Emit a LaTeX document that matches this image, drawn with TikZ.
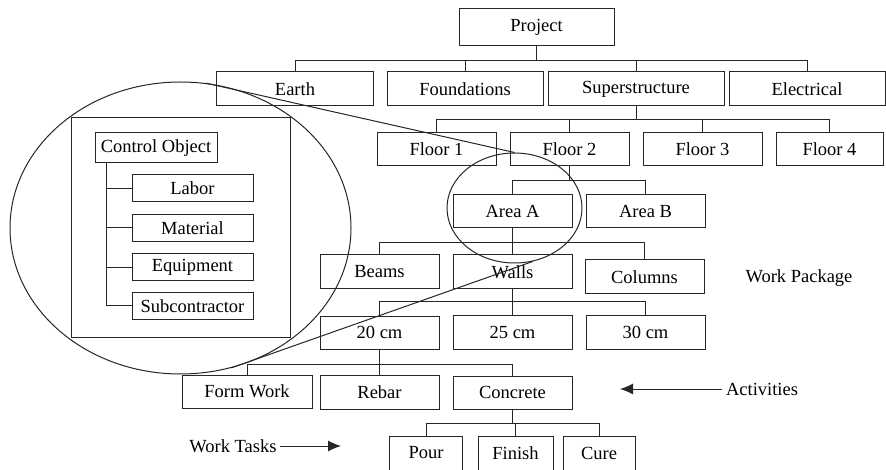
\documentclass[tikz,border=0pt]{standalone}
\usepackage{fontspec}
\setmainfont{Liberation Serif}
\usetikzlibrary{shapes.geometric, arrows.meta, positioning, calc}

\begin{document}
\begin{tikzpicture}[x=1pt, y=-1pt, line width=1pt, draw=black!85,
    wbs/.style={draw, rectangle, inner sep=0pt, minimum width=119pt, minimum height=34pt, font=\fontsize{18.5}{21}\selectfont},
    res/.style={wbs, minimum width=121pt, minimum height=27pt},
    note/.style={font=\fontsize{18.5}{21}\selectfont},
    zoomring/.style={draw, ellipse, inner sep=0pt},
    tip/.style={-{Latex[length=13pt, width=11pt]}}]
    \useasboundingbox (0,0) rectangle (886,470);

    % Top: project and trades
    \node[wbs, minimum width=155pt, minimum height=37pt] (project) at (536.5, 27.5) {Project};
    \node[wbs, minimum width=157pt] (earth) at (295, 89) {Earth};
    \node[wbs, minimum width=156pt] (found) at (465, 89) {Foundations};
    \node[wbs, minimum width=176pt] (super) at (636, 89) {Superstructure};
    \node[wbs, minimum width=156pt] (elec) at (807, 89) {Electrical};

    % Floors
    \node[wbs, minimum height=33pt] (floor1) at (436.5, 149.5) {Floor 1};
    \node[wbs, minimum height=33pt] (floor2) at (569.5, 149.5) {Floor 2};
    \node[wbs, minimum height=33pt] (floor3) at (702.5, 149.5) {Floor 3};
    \node[wbs, minimum height=33pt, minimum width=107pt] (floor4) at (829.5, 149.5) {Floor 4};

    % Areas
    \node[wbs, minimum height=33pt] (areaA) at (512.5, 211.5) {Area A};
    \node[wbs, minimum height=33pt] (areaB) at (645.5, 211.5) {Area B};

    % Work packages
    \node[wbs] (beams) at (379.5, 272) {Beams};
    \node[wbs] (walls) at (512.5, 272) {Walls};
    \node[wbs] (columns) at (644.5, 277) {Columns};
    \node[note] (wpack) at (799, 278) {Work Package};

    % Wall thickness
    \node[wbs, minimum height=33pt] (cm20) at (379.5, 332.5) {20 cm};
    \node[wbs] (cm25) at (512.5, 332) {25 cm};
    \node[wbs] (cm30) at (645.5, 332) {30 cm};

    % Activities
    \node[wbs, minimum width=130pt, minimum height=33pt] (form) at (247, 391.5) {Form Work};
    \node[wbs] (rebar) at (379.5, 392) {Rebar};
    \node[wbs, minimum height=33pt] (concrete) at (512.5, 392.5) {Concrete};
    \node[note] (activ) at (762, 389) {Activities};
    \coordinate (activtip) at (620, 389);
    \draw[tip] (activ.west) -- (activtip);

    % Work tasks
    \node[wbs, minimum width=73pt] (pour) at (426, 453) {Pour};
    \node[wbs, minimum width=75pt] (finish) at (515.5, 453) {Finish};
    \node[wbs, minimum width=72pt] (cure) at (599, 453) {Cure};
    \node[note] (wtasks) at (233, 446) {Work Tasks};
    \coordinate (wtaskstip) at (341, 446);
    \draw[tip] (wtasks.east) -- (wtaskstip);

    % Tree connectors
    \draw (project.south) -- ++(0,14) coordinate (bus1);
    \foreach \c in {earth, found, super, elec} \draw (bus1) -| (\c.north);
    \draw (super.south) -- ++(0,13) coordinate (bus2);
    \foreach \c in {floor1, floor2, floor3, floor4} \draw (bus2) -| (\c.north);
    \draw (floor2.south) -- ++(0,14) coordinate (bus3);
    \foreach \c in {areaA, areaB} \draw (bus3) -| (\c.north);
    \draw (areaA.south) -- ++(0,14) coordinate (bus4);
    \foreach \c in {beams, walls, columns} \draw (bus4) -| (\c.north);
    \draw (walls.south) -- ++(0,12) coordinate (bus5);
    \foreach \c in {cm20, cm25, cm30} \draw (bus5) -| (\c.north);
    \draw (cm20.south) -- ++(0,15) coordinate (bus6);
    \foreach \c in {form, rebar, concrete} \draw (bus6) -| (\c.north);
    \draw (concrete.south) -- ++(0,14) coordinate (bus7);
    \foreach \c in {pour, finish, cure} \draw (bus7) -| (\c.north);

    % Zoom on the control object
    \node[zoomring, minimum width=135pt, minimum height=110pt] (small) at (514.5, 208) {};
    \node[zoomring, minimum width=341pt, minimum height=292pt] (big) at (180.5, 228) {};
    \draw (big.80) -- (small.90);
    \draw (big.-70) -- (small.-71);

    % Control object panel
    \node[draw, rectangle, inner sep=0pt, minimum width=219pt, minimum height=219pt] (panel) at (180.5, 227.5) {};
    \node[wbs, minimum width=122pt, minimum height=30pt] (ctrl) at (156, 148) {Control Object};
    \node[res] (labor) at (192.5, 188.5) {Labor};
    \node[res] (material) at (192.5, 228) {Material};
    \node[res] (equip) at (192.5, 267.5) {Equipment};
    \node[res] (subcon) at (192.5, 306) {Subcontractor};
    \foreach \c in {labor, material, equip, subcon}
        \draw ([xshift=12pt]ctrl.south west) |- (\c.west);
\end{tikzpicture}
\end{document}
